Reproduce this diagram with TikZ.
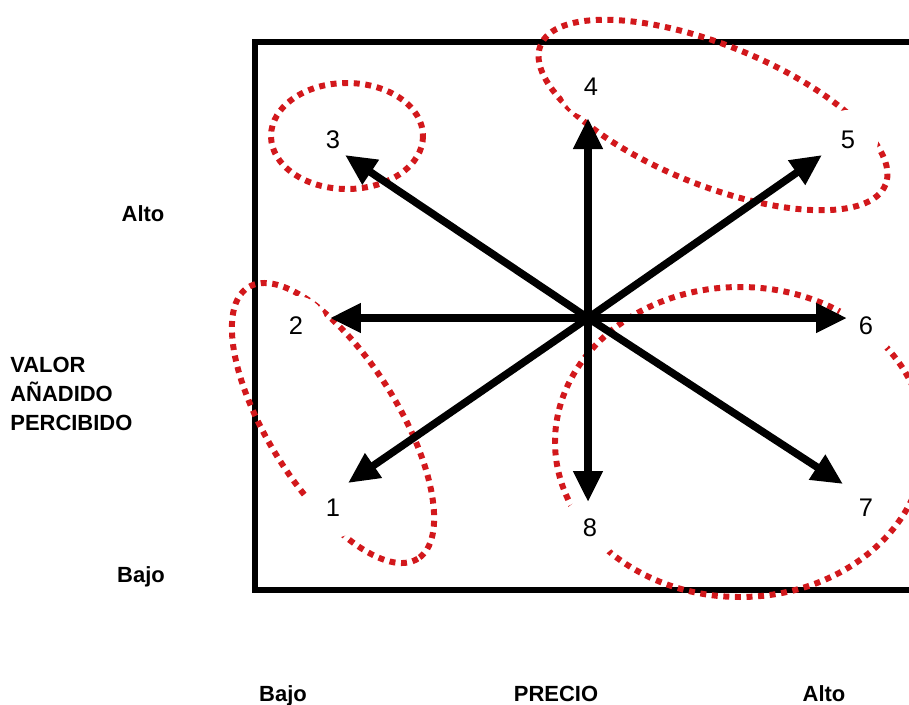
\documentclass[tikz,border=0pt]{standalone}
\usepackage{fontspec}
\setmainfont{Liberation Sans}
\usepackage{tikz}
\usetikzlibrary{arrows.meta}

\definecolor{dotred}{RGB}{210,24,28}

\begin{document}
\begin{tikzpicture}[x=.02cm,y=-.02cm,>={Triangle[length=.62cm,width=.56cm]},
  arr/.style={->,line width=4.3pt},
  ring/.style={dotred,line width=3.4pt,dash pattern=on 3.4pt off 3.2pt},
  num/.style={circle,fill=white,minimum size=1.2cm,inner sep=0pt,font=\fontsize{14.5}{17}\selectfont},
  lab/.style={inner sep=0pt,font=\bfseries\fontsize{12.5}{16.4}\selectfont}]
\clip (0,0) rectangle (909,704);
\draw[line width=3.4pt] (255,42) rectangle (940,590);
% grupos
\draw[ring] (347,136) ellipse [x radius=76,y radius=53];
\draw[ring,rotate around={-22:(713,115)}] (713,115) ellipse [x radius=186,y radius=70];
\draw[ring,rotate around={-58:(333,423)}] (333,423) ellipse [x radius=160,y radius=65];
\draw[ring] (740,442) ellipse [x radius=185,y radius=155];
% posiciones
\node[num] (n1) at (333,508){1};
\node[num] (n2) at (296,326){2};
\node[num] (n3) at (333,140){3};
\node[num] (n4) at (591,87){4};
\node[num] (n5) at (848,140){5};
\node[num] (n6) at (866,326){6};
\node[num] (n7) at (866,508){7};
\node[num] (n8) at (590,528){8};
\coordinate (c) at (588,318);
\coordinate (t1) at (348,483);
\coordinate (t2) at (330,318);
\coordinate (t3) at (345,155);
\coordinate (t4) at (588,118);
\coordinate (t5) at (822,155);
\coordinate (t6) at (847,318);
\coordinate (t7) at (843,484);
\coordinate (t8) at (588,502);
\foreach \k in {1,...,8}{\draw[arr] (c)--(t\k);}
% ejes
\node[lab,anchor=base] (va) at (143,221){Alto};
\node[lab,anchor=base] (vb) at (141,582){Bajo};
\node[lab,anchor=west,align=left] (vt) at (10,394){VALOR\\AÑADIDO\\PERCIBIDO};
\node[lab,anchor=base] (pb) at (283,701){Bajo};
\node[lab,anchor=base] (pt) at (556,701){PRECIO};
\node[lab,anchor=base] (pa) at (824,701){Alto};
\end{tikzpicture}
\end{document}
